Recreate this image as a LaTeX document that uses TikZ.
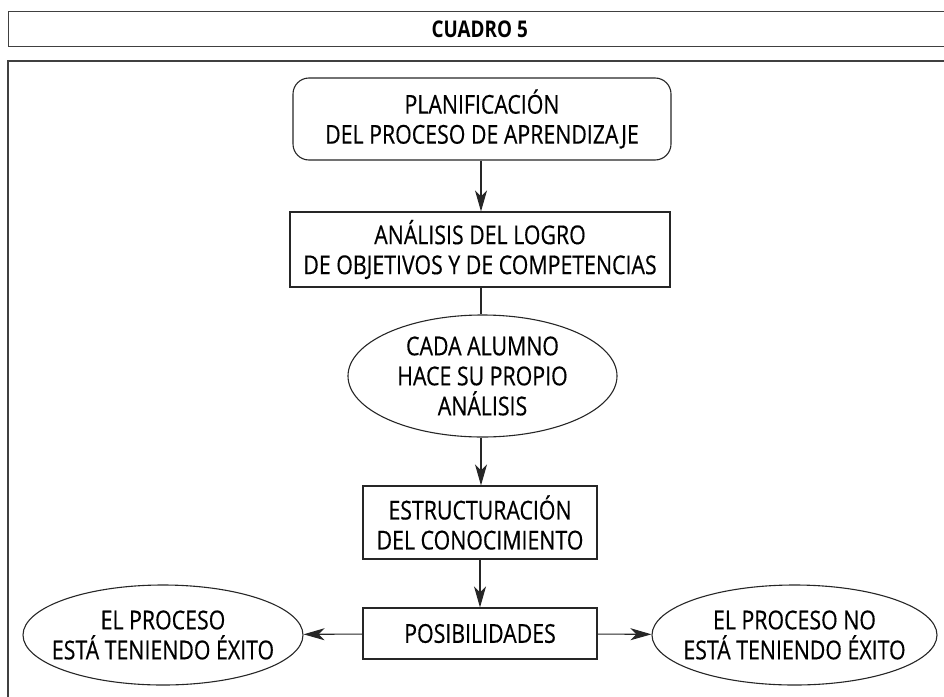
\documentclass[tikz,border=0pt]{standalone}
\usepackage{fontspec}
\setmainfont{Open Sans}[FakeStretch=0.82,FakeBold=0.4,BoldFont={Open Sans Bold},BoldFeatures={FakeStretch=0.82,FakeBold=0}]
\usetikzlibrary{shapes.geometric,arrows.meta}
\tikzset{
  frameline/.style={draw=black!75,line width=1.4pt},
  txt/.style={align=center,inner sep=0pt,font=\fontsize{26}{30}\selectfont},
  box/.style={txt,draw=black!85,line width=1.1pt},
  oval/.style={draw=black!85,line width=1.1pt,ellipse,inner sep=0pt},
  conn/.style={draw=black!85,line width=1.1pt},
  arr/.style={conn,-{Stealth[length=21pt,width=12pt,inset=6pt]}},
}
\begin{document}
\begin{tikzpicture}[x=1pt,y=-1pt]
\useasboundingbox (0,0) rectangle (944,696);
\node[frameline,draw,minimum width=942pt,minimum height=35.5pt,anchor=north west,inner sep=0pt,
  font=\bfseries\fontsize{23}{26}\selectfont] (head) at (8,10.5) {CUADRO 5};
\draw[frameline] (960,61) -- (8,61) coordinate (ftop) -- (8,710) coordinate (fbot);
\node[box,rounded corners=16pt,minimum width=378pt,minimum height=82pt] (plan) at (482,119)
  {PLANIFICACIÓN\\DEL PROCESO DE APRENDIZAJE};
\node[box,minimum width=380pt,minimum height=75pt] (anal) at (480,249.5)
  {ANÁLISIS DEL LOGRO\\DE OBJETIVOS Y DE COMPETENCIAS};
\node[oval,minimum width=269pt,minimum height=122pt] (alum) at (482.5,376) {};
\node[txt] (alumt) at (alum.center) {CADA ALUMNO\\HACE SU PROPIO\\ANÁLISIS};
\node[box,minimum width=234pt,minimum height=73pt] (estr) at (480,522.5)
  {ESTRUCTURACIÓN\\DEL CONOCIMIENTO};
\node[box,minimum width=234pt,minimum height=51pt] (posib) at (480,633.5)
  {POSIBILIDADES};
\node[oval,minimum width=280pt,minimum height=100pt] (exito) at (163,635) {};
\node[txt] (exitot) at (exito.center) {EL PROCESO\\ESTÁ TENIENDO ÉXITO};
\node[oval,minimum width=285pt,minimum height=100pt] (noexito) at (794.5,635) {};
\node[txt] (noexitot) at (noexito.center) {EL PROCESO NO\\ESTÁ TENIENDO ÉXITO};
\draw[arr] (plan.south -| 481,0) -- (anal.north -| 481,0);
\draw[conn] (anal.south -| 481,0) -- (alum.north -| 481,0);
\draw[arr] (alum.south -| 481,0) -- (estr.north -| 481,0);
\draw[arr] (estr) -- (posib);
\draw[arr] (posib) -- (exito);
\draw[arr] (posib) -- (noexito);
\end{tikzpicture}
\end{document}
